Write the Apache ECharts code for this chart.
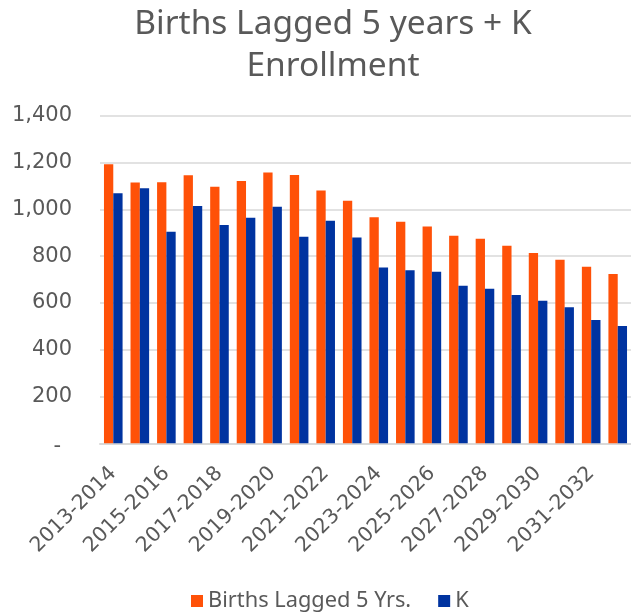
<!DOCTYPE html>
<html>
<head>
<meta charset="utf-8">
<script src="https://cdn.jsdelivr.net/npm/echarts@6/dist/echarts.min.js"></script>
<style>
  html, body { margin: 0; padding: 0; background: #fff; }
  #chart { width: 631px; height: 614px; }
</style>
</head>
<body>
<div id="chart"></div>
<script>
const years = [
  '2013-2014', '2014-2015', '2015-2016', '2016-2017', '2017-2018',
  '2018-2019', '2019-2020', '2020-2021', '2021-2022', '2022-2023',
  '2023-2024', '2024-2025', '2025-2026', '2026-2027', '2027-2028',
  '2028-2029', '2029-2030', '2030-2031', '2031-2032', '2032-2033'
];
const births = [1193, 1114, 1116, 1146, 1096, 1121, 1157, 1147, 1080, 1037,
  966, 947, 927, 887, 874, 844, 813, 784, 754, 724];
const kEnroll = [1069, 1090, 904, 1014, 933, 964, 1011, 883, 951, 880,
  751, 739, 733, 673, 661, 634, 609, 581, 527, 501];

const textGray = '#595959';
const font = 'Noto Sans';
const axisFont = 'DejaVu Sans';

const chart = echarts.init(document.getElementById('chart'));
chart.setOption({
  animation: false,
  title: {
    text: 'Births Lagged 5 years + K\nEnrollment',
    left: 328,
    textAlign: 'center',
    top: -2,
    textStyle: {
      color: textGray, fontFamily: font, fontWeight: 'normal',
      fontSize: 33.5, lineHeight: 42
    }
  },
  legend: {
    data: ['Births Lagged 5 Yrs.', 'K'],
    left: 191,
    top: 590,
    padding: 0,
    icon: 'rect',
    itemWidth: 12,
    itemHeight: 12,
    itemGap: 27,
    textStyle: { color: textGray, fontFamily: font, fontSize: 21.8 }
  },
  grid: { left: 100, right: -2.4, top: 115.7, bottom: 170.7 },
  xAxis: {
    type: 'category',
    data: years,
    axisLine: { lineStyle: { color: '#d9d9d9', width: 2 } },
    axisTick: { show: false },
    axisLabel: {
      interval: 1,
      rotate: 45,
      margin: 27,
      padding: [22, 0, 0, 0],
      color: textGray,
      fontFamily: axisFont,
      fontSize: 20.5
    }
  },
  yAxis: {
    type: 'value',
    min: 0,
    max: 1400,
    interval: 200,
    axisLine: { show: false },
    axisTick: { show: false },
    splitLine: { lineStyle: { color: '#d9d9d9', width: 1.5 } },
    axisLabel: {
      margin: 28,
      color: textGray,
      fontFamily: axisFont,
      fontSize: 21,
      formatter: v => v === 0 ? '{z|-}' : v.toLocaleString('en-US'),
      rich: {
        z: { color: textGray, fontFamily: axisFont, fontSize: 21, padding: [6, 11, 0, 0] }
      }
    }
  },
  series: [
    {
      name: 'Births Lagged 5 Yrs.',
      type: 'bar',
      data: births,
      barWidth: 9.3,
      barGap: '0%',
      itemStyle: { color: '#FF5108' }
    },
    {
      name: 'K',
      type: 'bar',
      data: kEnroll,
      barWidth: 9.3,
      itemStyle: { color: '#0033A0' }
    }
  ]
});
</script>
</body>
</html>
